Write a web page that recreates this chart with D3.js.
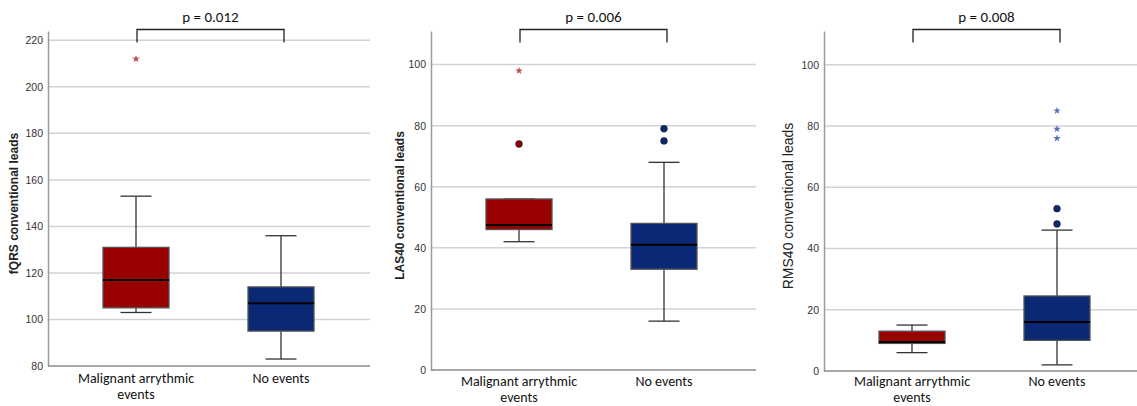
<!DOCTYPE html>
<html>
<head>
<meta charset="utf-8">
<script src="https://cdn.jsdelivr.net/npm/d3@7"></script>
<style>
  body { margin: 0; background: #fff; }
  svg { display: block; }
</style>
</head>
<body>
<svg id="chart"></svg>
<script>
// groups on the x axis (same in every panel)
const groups = ["Malignant arrythmic events", "No events"];

const yTitles = ["fQRS conventional leads", "LAS40 conventional leads", "RMS40 conventional leads"];
const pLabels = ["p = 0.012", "p = 0.006", "p = 0.008"];

const yDomains = [[80, 224], [0, 111], [0, 111]];
const yTicks = [
    [80, 100, 120, 140, 160, 180, 200, 220],
    [0, 20, 40, 60, 80, 100],
    [0, 20, 40, 60, 80, 100]
];

// [low whisker, Q1, median, Q3, high whisker] per group
const fqrsStats = [[103, 105, 117, 131, 153], [83, 95, 107, 114, 136]];
const las40Stats = [[42, 46, 47.5, 56, 56], [16, 33, 41, 48, 68]];
const rms40Stats = [[6, 9, 9.5, 13, 15], [2, 10, 16, 24.5, 46]];

// outliers (circles) and extreme values (stars) per group
const fqrsCircles = [[], []];
const fqrsStars = [[212], []];
const las40Circles = [[74], [79, 75]];
const las40Stars = [[98], []];
const rms40Circles = [[], [53, 48]];
const rms40Stars = [[], [85, 79, 76]];

const allStats = [fqrsStats, las40Stats, rms40Stats];
const allCircles = [fqrsCircles, las40Circles, rms40Circles];
const allStars = [fqrsStars, las40Stars, rms40Stars];

// layout of the three panels
const panels = [
    { x0: 48, x1: 370, yTop: 31, yBot: 366, titleX: 15, titleW: "bold", titleSize: 12 },
    { x0: 431, x1: 756, yTop: 31, yBot: 370, titleX: 401, titleW: "bold", titleSize: 12 },
    { x0: 824, x1: 1137, yTop: 31, yBot: 371, titleX: 789, titleW: "normal", titleSize: 14 }
];

const boxFill = ["#990000", "#0b2874"];
const circleFill = ["#8a0000", "#0b2874"];
const starFill = ["#c04848", "#5670b8"];
const labelFont = "Carlito, Lato, sans-serif";

const svg = d3.select("#chart")
    .attr("width", 1137)
    .attr("height", 406)
    .style("font-family", labelFont);

panels.forEach((p, i) => {
    const y = d3.scaleLinear().domain(yDomains[i]).range([p.yBot, p.yTop]);
    const x = d3.scalePoint().domain(groups).range([p.x0 + 88, p.x0 + 233]);
    const g = svg.append("g");

    // gridlines
    g.selectAll(".grid")
        .data(yTicks[i].slice(1))
        .enter()
        .append("line")
        .attr("x1", p.x0)
        .attr("x2", p.x1)
        .attr("y1", d => y(d))
        .attr("y2", d => y(d))
        .attr("stroke", "#d2d2d2")
        .attr("stroke-width", 1.5);

    // y axis
    const ax = g.append("g")
        .attr("transform", "translate(" + p.x0 + ",0)")
        .call(d3.axisLeft(y).tickValues(yTicks[i]).tickSize(0).tickPadding(5));
    ax.select(".domain").attr("stroke", "#9a9a9a").attr("stroke-width", 1.5);
    ax.selectAll("text")
        .style("font-family", "'Liberation Sans Narrow', 'Arial Narrow', sans-serif")
        .style("font-size", "10.5px")
        .attr("fill", "#333");

    // bottom axis line
    g.append("line")
        .attr("x1", p.x0)
        .attr("x2", p.x1)
        .attr("y1", p.yBot)
        .attr("y2", p.yBot)
        .attr("stroke", "#8a8a8a")
        .attr("stroke-width", 1.5);

    // y title
    g.append("text")
        .attr("transform", "translate(" + p.titleX + "," + ((p.yTop + p.yBot) / 2 + 5) + ") rotate(-90)")
        .attr("text-anchor", "middle")
        .attr("dominant-baseline", "middle")
        .style("font-family", "'Liberation Sans', Arial, sans-serif")
        .style("font-size", p.titleSize + "px")
        .style("font-weight", p.titleW)
        .attr("fill", "#222")
        .text(yTitles[i]);

    // x labels
    const line2 = Math.min(p.yBot + 33, 402);
    groups.forEach((name) => {
        const words = name === "Malignant arrythmic events" ? ["Malignant arrythmic", "events"] : [name];
        words.forEach((w, j) => {
            g.append("text")
                .attr("x", x(name))
                .attr("y", line2 - 16 + j * 16)
                .attr("text-anchor", "middle")
                .style("font-size", "14px")
                .style("font-weight", 500)
                .attr("fill", "#111")
                .text(w);
        });
    });

    // boxes
    const bw = 66, cw = 31;
    allStats[i].forEach((s, k) => {
        const cx = x(groups[k]);
        const bg = g.append("g").attr("stroke", "#333").attr("stroke-width", 1.3);
        bg.append("line").attr("x1", cx).attr("x2", cx).attr("y1", y(s[0])).attr("y2", y(s[1]));
        bg.append("line").attr("x1", cx).attr("x2", cx).attr("y1", y(s[3])).attr("y2", y(s[4]));
        bg.append("line").attr("x1", cx - cw / 2).attr("x2", cx + cw / 2).attr("y1", y(s[0])).attr("y2", y(s[0]));
        bg.append("line").attr("x1", cx - cw / 2).attr("x2", cx + cw / 2).attr("y1", y(s[4])).attr("y2", y(s[4]));
        bg.append("rect")
            .attr("x", cx - bw / 2)
            .attr("width", bw)
            .attr("y", y(s[3]))
            .attr("height", y(s[1]) - y(s[3]))
            .attr("fill", boxFill[k])
            .attr("stroke", "#555");
        bg.append("line")
            .attr("x1", cx - bw / 2).attr("x2", cx + bw / 2)
            .attr("y1", y(s[2])).attr("y2", y(s[2]))
            .attr("stroke", "#000").attr("stroke-width", 2);

        g.selectAll(null)
            .data(allCircles[i][k])
            .enter()
            .append("circle")
            .attr("cx", cx)
            .attr("cy", d => y(d))
            .attr("r", 3.4)
            .attr("fill", circleFill[k])
            .attr("stroke", "#222")
            .attr("stroke-width", 0.6);

        g.selectAll(null)
            .data(allStars[i][k])
            .enter()
            .append("path")
            .attr("d", d3.symbol().type(d3.symbolStar).size(18))
            .attr("transform", d => "translate(" + cx + "," + y(d) + ")")
            .attr("fill", starFill[k]);
    });

    // significance bracket
    const bx1 = x(groups[0]) + 1, bx2 = x(groups[1]) + 3;
    g.append("path")
        .attr("d", d3.line()([[bx1, 42.5], [bx1, 29.5], [bx2, 29.5], [bx2, 42.5]]))
        .attr("fill", "none")
        .attr("stroke", "#222")
        .attr("stroke-width", 1.3);
    g.append("text")
        .attr("x", (bx1 + bx2) / 2)
        .attr("y", 22)
        .attr("text-anchor", "middle")
        .style("font-size", "15px")
        .style("font-weight", 500)
        .attr("fill", "#111")
        .text(pLabels[i]);
});
</script>
</body>
</html>
